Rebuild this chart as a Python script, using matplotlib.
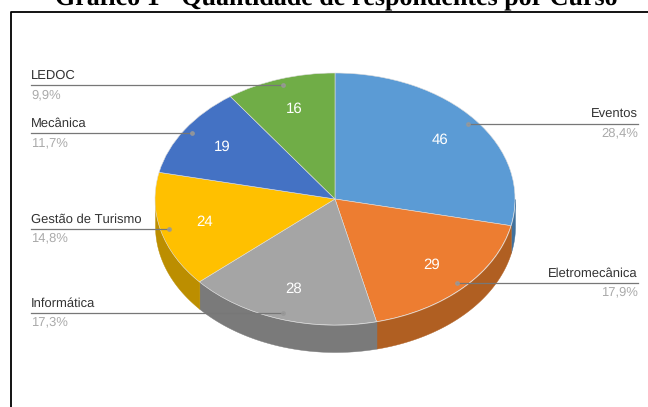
import numpy as np
import matplotlib
matplotlib.use('Agg')
import matplotlib.pyplot as plt
from matplotlib.lines import Line2D

W, H = 648, 407
cx, cy, rx, ry, depth = 335, 199, 180, 126, 27

cursos = ['Eventos', 'Eletromecânica', 'Informática', 'Gestão de Turismo', 'Mecânica', 'LEDOC']
valores = [46, 29, 28, 24, 19, 16]
cores = ['#5B9BD5', '#ED7D31', '#A5A5A5', '#FFC000', '#4472C4', '#70AD47']
cores_lado = ['#41719C', '#B05F22', '#7A7A7A', '#BC8E00', '#32548F', '#527F33']
titulo = 'Gráfico 1 - Quantidade de respondentes por Curso'


def px(x, y):
    return (x - cx) / rx, (cy - y) / ry


plt.rcParams['font.family'] = ['Liberation Sans', 'DejaVu Sans']
plt.rcParams['text.hinting'] = 'no_hinting'
plt.rcParams['text.hinting_factor'] = 1
fig = plt.figure(figsize=(W / 100, H / 100), dpi=100)
ax = fig.add_axes([0, 0, 1, 1])

total = sum(valores)
contagem = iter(valores)
ax.pie(valores, colors=cores, startangle=90, counterclock=False, radius=1,
       autopct=lambda p: str(next(contagem)), pctdistance=0.75,
       textprops={'color': 'white', 'fontsize': 11},
       wedgeprops={'linewidth': 0.4, 'edgecolor': '#dddddd'})
ax.set_aspect('auto')
ax.set_xlim(px(0, 0)[0], px(W, 0)[0])
ax.set_ylim(px(0, H)[1], px(0, 0)[1])
for t in ax.texts:
    t.set_zorder(6)

# lateral da pizza, so a metade da frente aparece
limites = np.cumsum([0] + valores) / total * 360
for i in range(len(valores)):
    a0, a1 = max(limites[i], 90), min(limites[i + 1], 270)
    if a1 <= a0:
        continue
    th = np.radians(np.linspace(a0, a1, 80))
    x, y = np.sin(th), np.cos(th)
    ax.fill_between(x, y, y - depth / ry, color=cores_lado[i], linewidth=0.3, zorder=0.5)

# linhas guia e rotulos
for i, nome in enumerate(cursos):
    meio = np.radians((limites[i] + limites[i + 1]) / 2)
    ax_x, ax_y = 0.95 * np.sin(meio), 0.95 * np.cos(meio)
    esquerda = ax_x < 0
    xt = px(31, 0)[0] if esquerda else px(638, 0)[0]
    dy = 9.5 / ry
    ha = 'left' if esquerda else 'right'
    ax.plot([ax_x, xt], [ax_y, ax_y], color='#777777', lw=0.9, zorder=4)
    ax.plot([ax_x], [ax_y], 'o', ms=2.5, color='#999999', alpha=0.8, zorder=4)
    ax.text(xt, ax_y + dy, nome, ha=ha, va='center', fontsize=9.1, color='#333333', zorder=5)
    pct = '{:.1f}%'.format(valores[i] / total * 100).replace('.', ',')
    ax.text(xt, ax_y - dy, pct, ha=ha, va='center', fontsize=9.1, color='#aaaaaa', zorder=5)

# moldura cortada: so esquerda e topo
fig.add_artist(Line2D([11 / W, 11 / W, 1], [0, 1 - 11.5 / H, 1 - 11.5 / H], color='black', lw=1.3))

# o titulo sai cortado em cima, igual ao original
fig.text(336 / W, 1 - 4 / H, titulo, ha='center', va='baseline', fontsize=18.9,
         fontweight='bold', family='Liberation Serif', color='black')

fig.savefig('out.png', dpi=100)
